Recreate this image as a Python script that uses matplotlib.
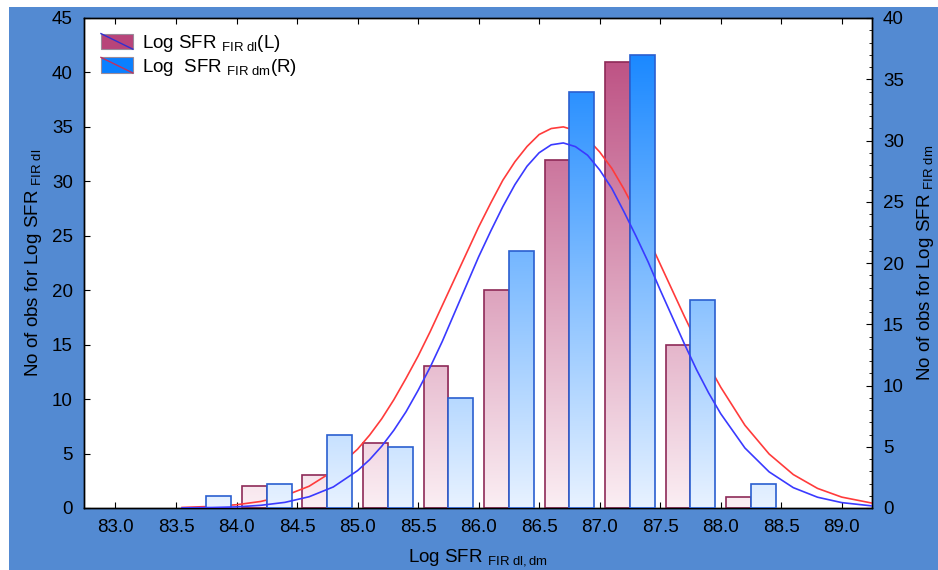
import numpy as np
import matplotlib
matplotlib.use("Agg")
import matplotlib.pyplot as plt
from matplotlib.patches import Rectangle
from matplotlib.legend_handler import HandlerBase
from matplotlib.lines import Line2D
from matplotlib.colors import LinearSegmentedColormap

plt.rcParams['font.family'] = ['Liberation Sans', 'DejaVu Sans']
plt.rcParams['mathtext.fontset'] = 'custom'
plt.rcParams['mathtext.rm'] = 'Liberation Sans'
plt.rcParams['mathtext.it'] = 'Liberation Sans'

# ---------------- data ----------------
bin_centers = [83.75, 84.25, 84.75, 85.25, 85.75, 86.25, 86.75, 87.25, 87.75, 88.25]
counts_dl = [0, 2, 3, 6, 13, 20, 32, 41, 15, 1]      # left axis (red)
counts_dm = [1, 2, 6, 5, 9, 21, 34, 37, 17, 2]       # right axis (blue)

# fitted normal curves
curve_x = [83.55, 83.8, 84.0, 84.2, 84.4, 84.6, 84.8, 85.0, 85.1, 85.2, 85.3, 85.4,
           85.5, 85.6, 85.7, 85.8, 85.9, 86.0, 86.1, 86.2, 86.3, 86.4, 86.5, 86.6,
           86.7, 86.8, 86.9, 87.0, 87.1, 87.2, 87.3, 87.4, 87.5, 87.6, 87.7, 87.8,
           87.9, 88.0, 88.2, 88.4, 88.6, 88.8, 89.0, 89.25]
curve_dl = [0.05, 0.15, 0.30, 0.60, 1.13, 2.0, 3.4, 5.4, 6.7, 8.2, 9.95, 11.9,
            13.95, 16.2, 18.6, 21.0, 23.4, 25.8, 28.0, 30.1, 31.8, 33.2, 34.3, 34.85,
            35.0, 34.67, 33.9, 32.7, 31.2, 29.3, 27.2, 24.8, 22.4, 20.0, 17.6, 15.3,
            13.1, 11.1, 7.6, 4.96, 3.07, 1.80, 1.00, 0.45]
curve_dm = [0.01, 0.04, 0.09, 0.22, 0.46, 0.92, 1.72, 3.05, 3.95, 5.05, 6.35, 7.85,
            9.6, 11.5, 13.6, 15.9, 18.2, 20.5, 22.6, 24.6, 26.4, 27.9, 29.0, 29.65,
            29.8, 29.5, 28.8, 27.6, 26.1, 24.2, 22.2, 20.1, 17.8, 15.6, 13.4, 11.3,
            9.4, 7.7, 4.9, 2.95, 1.66, 0.88, 0.44, 0.17]

x_ticks = [83.0, 83.5, 84.0, 84.5, 85.0, 85.5, 86.0, 86.5, 87.0, 87.5, 88.0, 88.5, 89.0]
left_ticks = [0, 5, 10, 15, 20, 25, 30, 35, 40, 45]
right_ticks = [0, 5, 10, 15, 20, 25, 30, 35, 40]

# ---------------- style ----------------
BG = '#538ad2'
FS = 13.5
bar_w = 0.205
red_top, red_bot, red_edge = '#b8447a', '#fbeef3', '#8e2a58'
blue_top, blue_bot, blue_edge = '#0a80ff', '#e8f2ff', '#2a5fd0'

fig = plt.figure(figsize=(9.38, 5.70), dpi=100, facecolor='white')
fig.patches.append(Rectangle((9 / 938, 0), 1, 1 - 7 / 570, transform=fig.transFigure,
                             facecolor=BG, edgecolor='none', zorder=-10))

ax = fig.add_axes([84 / 938, 62 / 570, 788 / 938, 490 / 570])
ax2 = ax.twinx()
ax.set_zorder(1)
ax2.set_zorder(2)
ax.patch.set_facecolor('white')
ax2.patch.set_visible(False)

xmin, xmax = 82.74, 89.25


def grad_bars(a, centers, vals, offset, top, bot, edge, ymax):
    cmap = LinearSegmentedColormap.from_list('g', [bot, top])
    grad = np.linspace(0, 1, 256).reshape(-1, 1)
    for c, v in zip(centers, vals):
        if v <= 0:
            continue
        x0 = c + offset
        im = a.imshow(grad, cmap=cmap, aspect='auto', origin='lower',
                      extent=(x0, x0 + bar_w, 0, ymax), zorder=2, interpolation='bilinear')
        rect = Rectangle((x0, 0), bar_w, v, facecolor='none', edgecolor=edge,
                         linewidth=1.2, zorder=3)
        a.add_patch(rect)
        im.set_clip_path(rect)


grad_bars(ax, bin_centers, counts_dl, -bar_w, red_top, red_bot, red_edge, 45)
grad_bars(ax2, bin_centers, counts_dm, 0.0, blue_top, blue_bot, blue_edge, 40)

ax.plot(curve_x, curve_dl, color='#ff3b3b', lw=1.2, zorder=5)
ax2.plot(curve_x, curve_dm, color='#3a3aff', lw=1.2, zorder=5)

ax.set_xlim(xmin, xmax)
ax.set_ylim(0, 45)
ax2.set_ylim(0, 40)

# ticks
ax.set_xticks(x_ticks)
ax.set_xticklabels([f'{v:.1f}' for v in x_ticks])
ax.set_yticks(left_ticks)
ax2.set_yticks(right_ticks)
ax2.set_yticks(range(0, 41), minor=True)
ax.tick_params(axis='x', direction='in', top=True, length=4, labelsize=FS, pad=8, colors='black')
ax.tick_params(axis='y', direction='in', length=4, labelsize=FS, pad=8)
ax2.tick_params(axis='y', which='major', direction='in', length=4, labelsize=FS, pad=8)
ax2.tick_params(axis='y', which='minor', direction='in', length=2.5)
for a in (ax, ax2):
    for s in a.spines.values():
        s.set_color('black')
        s.set_linewidth(1.0)

ax.set_xlabel(r'Log SFR $_{\mathregular{FIR\ dl,dm}}$', fontsize=FS, labelpad=8)
ax.set_ylabel(r'No of obs for Log SFR $_{\mathregular{FIR\ dl}}$', fontsize=FS, labelpad=6)
ax2.set_ylabel(r'No of obs for Log SFR $_{\mathregular{FIR\ dm}}$', fontsize=FS, labelpad=8)


class RectDiag(HandlerBase):
    def __init__(self, face, line, **kw):
        super().__init__(**kw)
        self.face, self.line = face, line

    def create_artists(self, legend, orig_handle, xdescent, ydescent, width, height,
                       fontsize, trans):
        r = Rectangle((-xdescent, -ydescent), width, height, facecolor=self.face,
                      edgecolor='#9a8a9a', lw=0.8, transform=trans)
        l = Line2D([-xdescent, -xdescent + width], [-ydescent + height, -ydescent],
                   color=self.line, lw=1.0, transform=trans)
        return [r, l]


h1 = Rectangle((0, 0), 1, 1)
h2 = Rectangle((0, 0), 1, 1)
leg = ax2.legend([h1, h2],
                 [r'Log SFR $_{\mathregular{FIR\ dl}}$(L)', r'Log  SFR $_{\mathregular{FIR\ dm}}$(R)'],
                 handler_map={h1: RectDiag('#b8447a', '#3030d0'), h2: RectDiag('#0a80ff', '#c03060')},
                 loc='upper left', frameon=False, fontsize=FS, handlelength=1.7,
                 handleheight=0.9, handletextpad=0.5, labelspacing=0.15,
                 borderaxespad=0.0, bbox_to_anchor=(0.012, 0.985))

fig.savefig('out.png', dpi=100, facecolor=fig.get_facecolor())
